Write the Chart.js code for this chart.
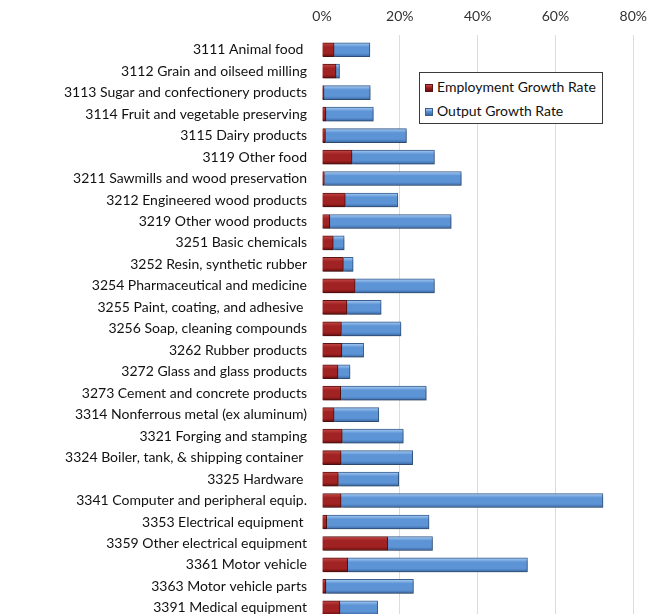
<!DOCTYPE html>
<html>
<head>
<meta charset="utf-8">
<script src="https://cdn.jsdelivr.net/npm/chart.js@4.4.1/dist/chart.umd.min.js"></script>
<style>
    body { margin: 0; overflow: hidden; background: #fff; }
    #wrap { position: relative; width: 657px; height: 642px; }
    #chart { display: block; }
    #legend {
        position: absolute; left: 419px; top: 72px; width: 182px; height: 50px;
        border: 1px solid #3a3a3a; background: #fff;
        font-family: Lato, sans-serif; font-size: 14px; color: #111;
    }
    #legend .item { position: absolute; left: 5px; height: 16px; line-height: 16px; white-space: nowrap; }
    #legend .box { display: inline-block; width: 8px; height: 8px; margin-right: 4px; vertical-align: 0px; }
</style>
</head>
<body>
<div id="wrap">
    <canvas id="chart" width="657" height="642"></canvas>
    <div id="legend"></div>
</div>
<script>
// Industry categories (top to bottom)
const industries = [
    "3111 Animal food ",
    "3112 Grain and oilseed milling",
    "3113 Sugar and confectionery products",
    "3114 Fruit and vegetable preserving",
    "3115 Dairy products",
    "3119 Other food",
    "3211 Sawmills and wood preservation",
    "3212 Engineered wood products",
    "3219 Other wood products",
    "3251 Basic chemicals",
    "3252 Resin, synthetic rubber",
    "3254 Pharmaceutical and medicine",
    "3255 Paint, coating, and adhesive ",
    "3256 Soap, cleaning compounds",
    "3262 Rubber products",
    "3272 Glass and glass products",
    "3273 Cement and concrete products",
    "3314 Nonferrous metal (ex aluminum)",
    "3321 Forging and stamping",
    "3324 Boiler, tank, & shipping container ",
    "3325 Hardware ",
    "3341 Computer and peripheral equip.",
    "3353 Electrical equipment ",
    "3359 Other electrical equipment",
    "3361 Motor vehicle",
    "3363 Motor vehicle parts",
    "3391 Medical equipment"
];

// Employment growth rate (%)
const employmentGrowth = [3.1, 3.6, 0.5, 1.0, 0.9, 7.7, 0.6, 6.0, 2.0, 2.9, 5.5, 8.5, 6.4, 5.0,
    5.1, 4.1, 4.8, 3.1, 5.2, 4.9, 4.2, 4.9, 1.2, 16.9, 6.6, 1.0, 4.6];

// Output growth rate (%), stacked after employment
const outputGrowth = [9.2, 0.9, 11.9, 12.2, 20.8, 21.2, 35.2, 13.5, 31.2, 2.8, 2.5, 20.4, 8.8, 15.3,
    5.6, 3.1, 22.0, 11.5, 15.7, 18.4, 15.5, 67.3, 26.3, 11.5, 46.2, 22.5, 9.7];

const xTicks = [0, 20, 40, 60, 80];

const seriesNames = ["Employment Growth Rate", "Output Growth Rate"];

// colours for the bevelled bars: top, middle, bottom, border
const redShades = ["#c44a48", "#a12222", "#6a0d0d", "#5a1212"];
const blueShades = ["#a9cdf3", "#5d94d6", "#3b69a6", "#3a5f8f"];

function barFill(shades) {
    return function (ctx) {
        const el = ctx.element;
        if (!el || el.y == null || isNaN(el.y)) return shades[1];
        const h = (el.height || 14) / 2;
        const g = ctx.chart.ctx.createLinearGradient(0, el.y - h, 0, el.y + h);
        g.addColorStop(0, shades[0]);
        g.addColorStop(0.3, shades[1]);
        g.addColorStop(0.75, shades[1]);
        g.addColorStop(1, shades[2]);
        return g;
    };
}

// soft shadow under the bars
const shadowPlugin = {
    id: "barShadow",
    beforeDatasetsDraw(chart) {
        const c = chart.ctx;
        c.save();
        c.shadowColor = "rgba(0,0,0,0.28)";
        c.shadowBlur = 3;
        c.shadowOffsetX = 1;
        c.shadowOffsetY = 2;
    },
    afterDatasetsDraw(chart) {
        chart.ctx.restore();
    }
};

const chart = new Chart(document.getElementById("chart").getContext("2d"), {
    type: "bar",
    data: {
        labels: industries,
        datasets: [{
            label: seriesNames[0],
            data: employmentGrowth,
            backgroundColor: barFill(redShades),
            borderColor: redShades[3],
            borderWidth: 1,
            barThickness: 14
        }, {
            label: seriesNames[1],
            data: outputGrowth,
            backgroundColor: barFill(blueShades),
            borderColor: blueShades[3],
            borderWidth: 1,
            barThickness: 14
        }]
    },
    plugins: [shadowPlugin],
    options: {
        indexAxis: "y",
        responsive: false,
        animation: false,
        layout: { padding: { left: 0, right: 22, top: 0, bottom: 0 } },
        plugins: {
            legend: { display: false },
            tooltip: { enabled: false }
        },
        scales: {
            x: {
                position: "top",
                stacked: true,
                min: 0,
                max: 80,
                afterBuildTicks: s => { s.ticks = xTicks.map(v => ({ value: v })); },
                afterFit: s => { s.height = 39; },
                ticks: {
                    padding: 10,
                    color: "#333",
                    font: { family: "Lato", size: 14 },
                    callback: v => v + "%"
                },
                grid: {
                    color: c => (c.tick && c.tick.value === 0) ? "rgba(0,0,0,0)" : "#dcdcdc",
                    drawTicks: true,
                    tickLength: 4
                },
                border: { display: false }
            },
            y: {
                stacked: true,
                afterFit: s => { s.width = 322; },
                ticks: {
                    padding: 15,
                    color: "#111",
                    autoSkip: false,
                    font: { family: "Lato", size: 14 }
                },
                grid: { display: false, drawTicks: false },
                border: { display: false }
            }
        }
    }
});
// second pass so the gradients know where each bar sits
chart.update("none");

// legend box
const legendEl = document.getElementById("legend");
[redShades, blueShades].forEach((shades, i) => {
    const item = document.createElement("div");
    item.className = "item";
    item.style.top = (6 + i * 24) + "px";
    const box = document.createElement("span");
    box.className = "box";
    box.style.background = "linear-gradient(" + shades[0] + "," + shades[1] + " 40%," + shades[2] + ")";
    box.style.border = "1px solid " + shades[3];
    box.style.boxSizing = "border-box";
    item.appendChild(box);
    item.appendChild(document.createTextNode(seriesNames[i]));
    legendEl.appendChild(item);
});
</script>
</body>
</html>
